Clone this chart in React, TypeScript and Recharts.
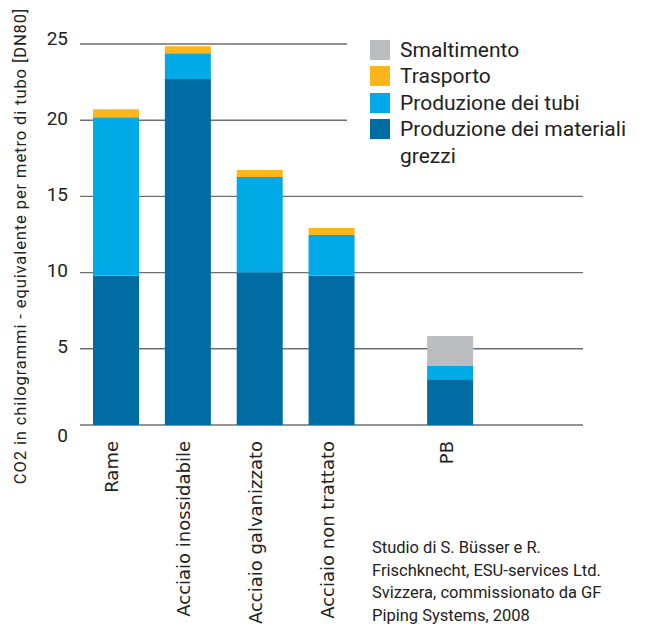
import { BarChart, Bar, XAxis, YAxis, CartesianGrid, Legend, Label } from 'recharts'

const CATEGORIES = ['Rame', 'Acciaio inossidabile', 'Acciaio galvanizzato', 'Acciaio non trattato', 'PB']
const RAW_MATERIALS = [9.8, 22.7, 10.0, 9.8, 2.95]
const PIPE_PRODUCTION = [10.4, 1.7, 6.27, 2.67, 0.92]
const TRANSPORT = [0.52, 0.45, 0.46, 0.46, 0]
const DISPOSAL = [0, 0, 0, 0, 1.97]
const Y_TICKS = [0, 5, 10, 15, 20, 25]

// slot of each category along the x axis (PB sits a bit apart)
const SLOTS = [1, 2, 3, 4, 5.65]

const SERIES = [
  { key: 'raw', name: 'Produzione dei materiali grezzi', color: '#006ca4' },
  { key: 'pipe', name: 'Produzione dei tubi', color: '#00aae7' },
  { key: 'transport', name: 'Trasporto', color: '#fdb51c' },
  { key: 'disposal', name: 'Smaltimento', color: '#bcbdc0' },
]

const data = CATEGORIES.map((name, i) => ({
  name,
  slot: SLOTS[i],
  raw: RAW_MATERIALS[i],
  pipe: PIPE_PRODUCTION[i],
  transport: TRANSPORT[i],
  disposal: DISPOSAL[i],
}))

const DIN = 'Roboto, "Open Sans", sans-serif'

function YTick({ x, y, payload }: any) {
  const v = payload.value
  const dy = v === 0 ? 10 : v === 25 ? -6 : -2
  return (
    <text x={x} y={y + dy} textAnchor="end" dominantBaseline="central" fill="#222" fontSize={19} fontFamily={DIN}>
      {v}
    </text>
  )
}

function XTick({ x, y, payload }: any) {
  const idx = SLOTS.indexOf(payload.value)
  const label = idx >= 0 ? CATEGORIES[idx] : ''
  const tx = x - 4
  return (
    <text
      x={tx}
      y={y}
      transform={`rotate(-90, ${tx}, ${y})`}
      textAnchor="end"
      dominantBaseline="central"
      fill="#222"
      fontSize={18}
      fontFamily='"DejaVu Sans", sans-serif'
    >
      {label}
    </text>
  )
}

function LegendBox() {
  return (
    <div style={{ fontFamily: DIN, fontSize: 21, color: '#222', lineHeight: '26.4px' }}>
      {[...SERIES].reverse().map((s) => (
        <div key={s.key} style={{ display: 'flex', alignItems: 'flex-start' }}>
          <span style={{ width: 20, height: 20, background: s.color, marginTop: 3, marginRight: 10, flexShrink: 0 }} />
          <span>{s.name}</span>
        </div>
      ))}
    </div>
  )
}

export default function App() {
  return (
    <div style={{ position: 'relative', width: 639, height: 617 }}>
      <BarChart width={639} height={617} data={data} margin={{ top: 36, right: 64, left: 0, bottom: 0 }}>
        <CartesianGrid vertical={false} stroke="#6f6f6f" strokeWidth={1.4} />
        <XAxis
          type="number"
          dataKey="slot"
          domain={[0.5, 7.5]}
          ticks={SLOTS}
          interval={0}
          height={200}
          axisLine={false}
          tickLine={false}
          tickSize={0}
          tickMargin={16}
          tick={<XTick />}
        />
        <YAxis
          domain={[0, 25]}
          ticks={Y_TICKS}
          width={72}
          axisLine={false}
          tickLine={false}
          tickSize={0}
          tickMargin={12}
          tick={<YTick />}
        >
          <Label
            content={() => (
              <text
                x={12}
                y={238}
                transform="rotate(-90, 12, 238)"
                textAnchor="middle"
                dominantBaseline="central"
                fill="#222"
                fontSize={16.5}
                letterSpacing={0.9}
                fontFamily={DIN}
              >
                CO2 in chilogrammi - equivalente per metro di tubo [DN80]
              </text>
            )}
          />
        </YAxis>
        <Legend
          layout="horizontal"
          verticalAlign="middle"
          align="center"
          content={<LegendBox />}
          wrapperStyle={{ left: 339, top: 22, width: 300, height: 145, background: '#fff', paddingLeft: 23, paddingTop: 7, boxSizing: 'border-box' }}
        />
        {SERIES.map((s) => (
          <Bar key={s.key} dataKey={s.key} name={s.name} stackId="a" fill={s.color} barSize={46} isAnimationActive={false} />
        ))}
      </BarChart>
      <div
        style={{
          position: 'absolute',
          left: 364,
          top: 529,
          fontFamily: DIN,
          fontSize: 16.5,
          lineHeight: '22.5px',
          color: '#222',
          whiteSpace: 'nowrap',
        }}
      >
        Studio di S. Büsser e R.
        <br />
        Frischknecht, ESU-services Ltd.
        <br />
        Svizzera, commissionato da GF
        <br />
        Piping Systems, 2008
      </div>
    </div>
  )
}
